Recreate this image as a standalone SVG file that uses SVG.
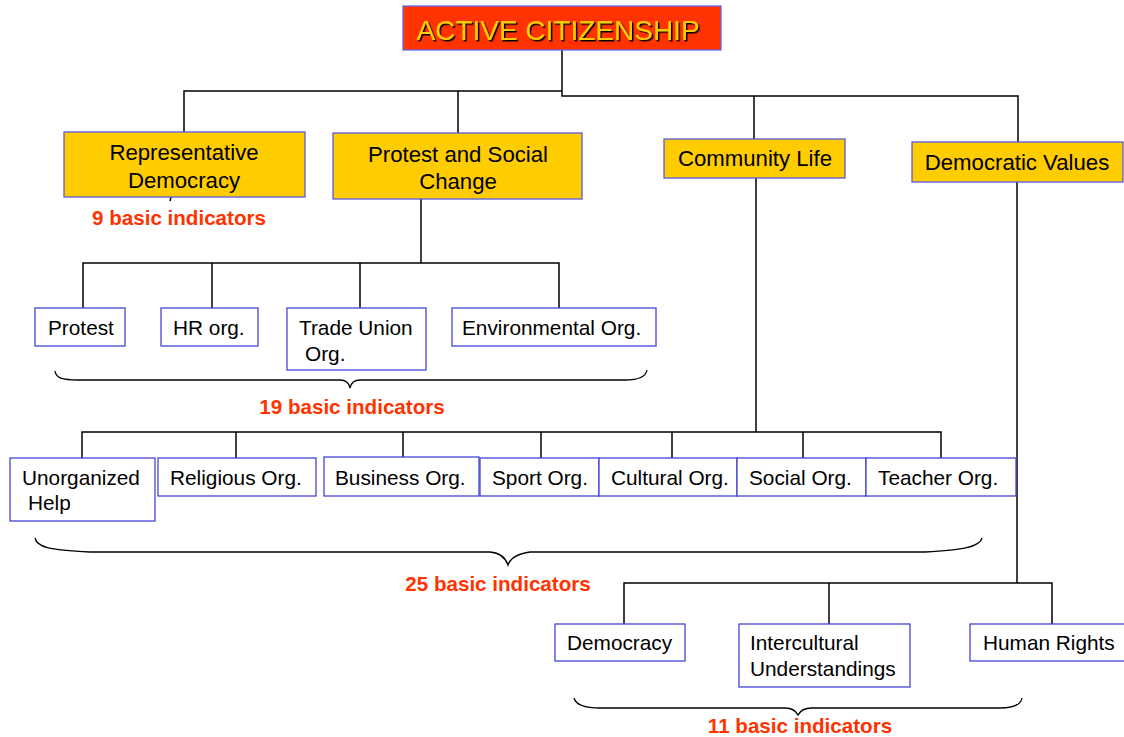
<svg xmlns="http://www.w3.org/2000/svg" width="1124" height="737" viewBox="0 0 1124 737">
<defs>
<style>
.y{fill:#FFCC00;stroke:#5a5ae0;stroke-width:1.3}
.w{fill:#ffffff;stroke:#4444d4;stroke-width:1.3}
.t{font-family:"Liberation Sans",Arial,sans-serif;font-size:20.8px;fill:#000}
.ty{font-family:"Liberation Sans",Arial,sans-serif;font-size:22.2px;fill:#000;text-anchor:middle}
.r{font-family:"Liberation Sans",Arial,sans-serif;font-size:20.6px;font-weight:bold;fill:#FF3300;text-anchor:middle}
.c{fill:none;stroke:#000;stroke-width:1.5}
.b{fill:none;stroke:#000;stroke-width:1.3}
</style>
<filter id="sh" x="-5%" y="-20%" width="110%" height="140%">
<feDropShadow dx="1.5" dy="1.5" stdDeviation="0" flood-color="#000" flood-opacity="1"/>
</filter>
</defs>
<rect width="1124" height="737" fill="#fff"/>
<g id="connectors" class="c">
<path d="M562,50 V96 H1018 V142"/>
<path d="M562,91 H184 V132"/>
<path d="M458,91 V133"/>
<path d="M754,96 V139"/>
<path d="M171,197 L170,201"/>
<path d="M421,199 V263"/>
<path d="M83,308 V263 H559 V308"/>
<path d="M212,263 V308"/>
<path d="M360,263 V308"/>
<path d="M756,178 V432"/>
<path d="M82,458 V432 H941 V458"/>
<path d="M236,432 V458"/>
<path d="M403,432 V458"/>
<path d="M541,432 V458"/>
<path d="M672,432 V458"/>
<path d="M803,432 V458"/>
<path d="M1017,182 V583"/>
<path d="M624,624 V583 H1052 V624"/>
<path d="M829,583 V624"/>
</g>
<g id="braces" class="b">
<path d="M55,371 C56,378 62,380 78,380 L340,380 C346,380 349,383 350,388 C351,383 354,380 360,380 L625,380 C640,380 646,376 647,370"/>
<path d="M35,538 C37,547 48,550 90,552 L490,552 C502,553 506,559 508,565 C510,559 516,554 530,552 L925,552 C962,550 980,547 982,538"/>
<path d="M574,698 C576,705 585,708 600,708 L785,708 C792,708 796,711 798,715 C800,711 804,708 812,708 L1000,708 C1016,708 1021,704 1022,698"/>
</g>
<g id="n-active">
<rect x="403" y="6" width="318" height="44" fill="#FF3300" stroke="#6666ee" stroke-width="1.3"/>
<text x="558" y="40" text-anchor="middle" font-family="'Liberation Sans',Arial,sans-serif" font-size="28" fill="#FFCC00" filter="url(#sh)">ACTIVE CITIZENSHIP</text>
</g>
<g id="n-rep">
<rect class="y" x="64" y="132" width="241" height="65"/>
<text class="ty" x="184" y="160">Representative</text>
<text class="ty" x="184" y="188">Democracy</text>
</g>
<g id="n-protestsc">
<rect class="y" x="333" y="133" width="249" height="66"/>
<text class="ty" x="458" y="162">Protest and Social</text>
<text class="ty" x="458" y="189">Change</text>
</g>
<g id="n-community">
<rect class="y" x="664" y="139" width="181" height="39"/>
<text class="ty" x="755" y="166">Community Life</text>
</g>
<g id="n-demvalues">
<rect class="y" x="912" y="142" width="211" height="40"/>
<text class="ty" x="1017" y="170">Democratic Values</text>
</g>
<g id="n-protest">
<rect class="w" x="35" y="308" width="90" height="38"/>
<text class="t" x="48" y="335">Protest</text>
</g>
<g id="n-hr">
<rect class="w" x="161" y="308" width="97" height="38"/>
<text class="t" x="173" y="335">HR org.</text>
</g>
<g id="n-trade">
<rect class="w" x="287" y="308" width="139" height="62"/>
<text class="t" x="299" y="335">Trade Union</text>
<text class="t" x="305" y="361">Org.</text>
</g>
<g id="n-env">
<rect class="w" x="452" y="308" width="204" height="38"/>
<text class="t" x="462" y="335">Environmental Org.</text>
</g>
<text class="r" x="179" y="225">9 basic indicators</text>
<text class="r" x="352" y="414">19 basic indicators</text>
<g id="n-unorg">
<rect class="w" x="10" y="458" width="145" height="63"/>
<text class="t" x="22" y="485">Unorganized</text>
<text class="t" x="28" y="510">Help</text>
</g>
<g id="n-relig">
<rect class="w" x="158" y="458" width="158" height="38"/>
<text class="t" x="170" y="485">Religious Org.</text>
</g>
<g id="n-business">
<rect class="w" x="324" y="457" width="155" height="39"/>
<text class="t" x="335" y="485">Business Org.</text>
</g>
<g id="n-sport">
<rect class="w" x="480" y="458" width="119" height="38"/>
<text class="t" x="492" y="485">Sport Org.</text>
</g>
<g id="n-cultural">
<rect class="w" x="599" y="458" width="138" height="38"/>
<text class="t" x="611" y="485">Cultural Org.</text>
</g>
<g id="n-social">
<rect class="w" x="737" y="458" width="129" height="38"/>
<text class="t" x="749" y="485">Social Org.</text>
</g>
<g id="n-teacher">
<rect class="w" x="866" y="458" width="150" height="38"/>
<text class="t" x="878" y="485">Teacher Org.</text>
</g>
<text class="r" x="498" y="591">25 basic indicators</text>
<g id="n-democracy">
<rect class="w" x="555" y="624" width="130" height="37"/>
<text class="t" x="567" y="650">Democracy</text>
</g>
<g id="n-intercultural">
<rect class="w" x="739" y="624" width="171" height="63"/>
<text class="t" x="750" y="650">Intercultural</text>
<text class="t" x="750" y="676">Understandings</text>
</g>
<g id="n-humanrights">
<rect class="w" x="970" y="624" width="160" height="37"/>
<text class="t" x="983" y="650">Human Rights</text>
</g>
<text class="r" x="800" y="733">11 basic indicators</text>
</svg>
